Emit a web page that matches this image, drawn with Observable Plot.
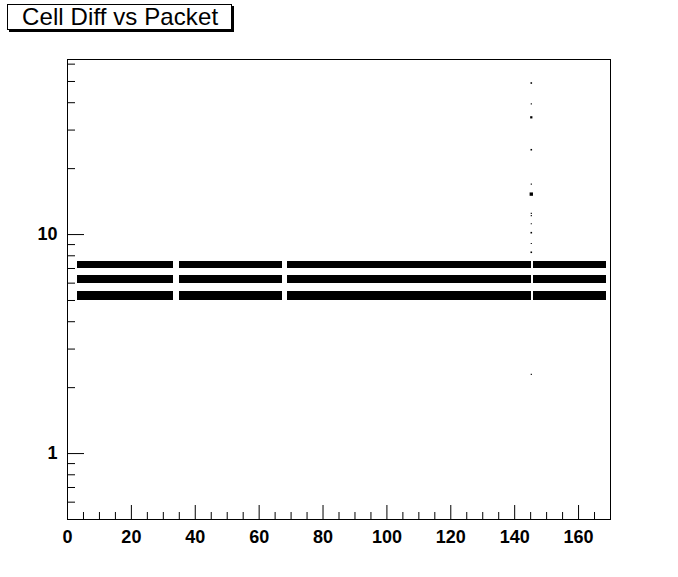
<!DOCTYPE html>
<html><head><meta charset="utf-8">
<script src="https://cdn.jsdelivr.net/npm/d3@7"></script>
<script src="https://cdn.jsdelivr.net/npm/@observablehq/plot@0.6"></script>
<style>
html,body{margin:0;padding:0;background:#fff;}
#wrap{position:relative;width:678px;height:577px;}
#title{position:absolute;z-index:2;left:7px;top:4px;width:209px;height:24px;border:1px solid #000;box-shadow:2px 2px 0 #000;background:#fff;font-family:"Liberation Sans",Arial,sans-serif;font-size:24px;line-height:24px;padding-left:14px;white-space:nowrap;color:#000;letter-spacing:0.1px;}
</style></head><body>
<div id="wrap"><div id="title">Cell Diff vs Packet</div></div>
<script>
// Packet ranges (x) where the three cell-diff bands are filled
const segStart = [3, 35, 68.9, 145.9];
const segEnd = [33.3, 67.4, 145.3, 168.6];
// Cell diff bins (y) of the three bands
const bandLow = [5, 6, 7];
const bandHigh = [5.5, 6.5, 7.5];
// Sparse outlier entries at packet ~145
const outlierX = [145.2, 145.2, 145.2, 145.2, 145.2, 145.2, 145.2, 145.2, 145.2, 145.2, 145.2, 145.2, 145.2];
const outlierY = [49.2, 39.5, 34.3, 24.4, 17.0, 15.3, 12.5, 12.2, 11.2, 10.2, 9.1, 8.3, 2.3];
const outlierCount = [2, 1, 4, 2, 1, 9, 1, 1, 1, 2, 1, 2, 1];
// Axis ticks
const xMajor = [0, 20, 40, 60, 80, 100, 120, 140, 160];
const xMinor = [5, 10, 15, 25, 30, 35, 45, 50, 55, 65, 70, 75, 85, 90, 95, 105, 110, 115, 125, 130, 135, 145, 150, 155, 165];
const yMajor = [1, 10];
const yMinor = [0.6, 0.7, 0.8, 0.9, 2, 3, 4, 5, 6, 7, 8, 9, 20, 30, 40, 50, 60];

const bands = [];
segStart.forEach((s, i) => bandLow.forEach((lo, j) => bands.push({x1: s, x2: segEnd[i], y1: lo, y2: bandHigh[j]})));
const outliers = outlierX.map((x, i) => ({x, y: outlierY[i], count: outlierCount[i]}));

const chart = Plot.plot({
  width: 678, height: 577,
  marginLeft: 67, marginRight: 68, marginTop: 59, marginBottom: 58,
  style: {fontFamily: '"Liberation Sans", Arial, sans-serif', fontWeight: "bold", fontSize: "18px", color: "#000", background: "#fff"},
  x: {domain: [0, 170]},
  y: {type: "log", domain: [0.5, 63]},
  r: {type: "sqrt", domain: [0, 9], range: [0, 1.9]},
  marks: [
    Plot.rect(bands, {x1: "x1", x2: "x2", y1: "y1", y2: "y2", fill: "#000", shapeRendering: "crispEdges"}),
    Plot.dot(outliers, {x: "x", y: "y", r: "count", symbol: "square", fill: "#000", stroke: null}),
    Plot.frame({stroke: "#000"}),
    Plot.axisX(xMajor, {anchor: "bottom", tickSize: -14, fill: "none", stroke: "#000", label: null}),
    Plot.axisX(xMinor, {anchor: "bottom", tickSize: -7, fill: "none", stroke: "#000", label: null}),
    Plot.axisX(xMajor, {anchor: "bottom", tickSize: 0, tickPadding: 11, fill: "#000", label: null, tickFormat: d => String(d)}),
    Plot.axisY(yMajor, {anchor: "left", tickSize: -17, fill: "none", stroke: "#000", label: null}),
    Plot.axisY(yMinor, {anchor: "left", tickSize: -8, fill: "none", stroke: "#000", label: null}),
    Plot.axisY(yMajor, {anchor: "left", tickSize: 0, tickPadding: 10, fill: "#000", label: null, tickFormat: d => String(d)})
  ]
});
document.getElementById("wrap").appendChild(chart);
</script>
</body></html>
